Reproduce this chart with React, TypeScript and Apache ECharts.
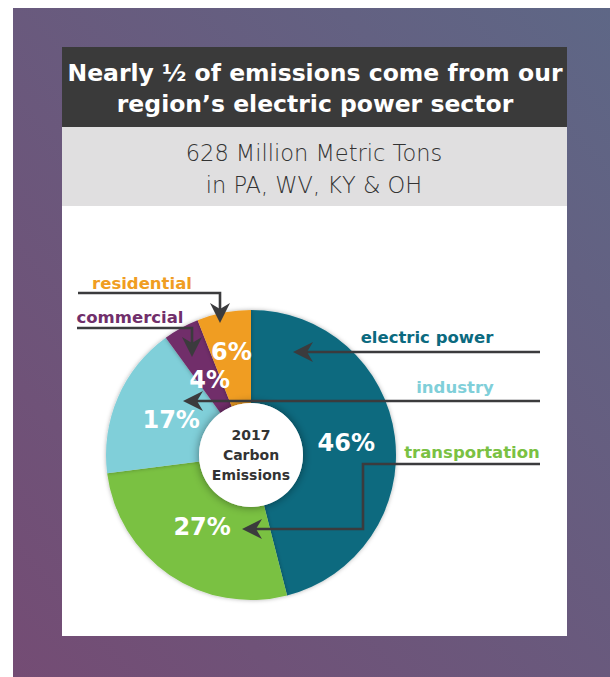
import React, { useEffect, useRef } from "react";
import * as echarts from "echarts";

const sectors = ["electric power", "transportation", "industry", "commercial", "residential"];
const shares = [46, 27, 17, 4, 6];
const sectorColors = ["#0b6a7f", "#7ac143", "#80cfd9", "#712f6b", "#f09d22"];
const titleLines = ["Nearly ½ of emissions come from our", "region’s electric power sector"];
const subtitleLines = ["628 Million Metric Tons", "in PA, WV, KY & OH"];
const centerLabel = "2017\nCarbon\nEmissions";

// layout only: radius at which each percentage label sits
const labelRadii = [96, 87, 87, 86, 105];
const CX = 251, CY = 455;

// annotation layout (label position, arrow path)
const labelPos: Record<string, [number, number]> = {
  "electric power": [427, 337],
  industry: [455, 387],
  transportation: [472, 452],
  residential: [142, 283],
  commercial: [130, 317],
};
const arrowPaths: Record<string, number[][]> = {
  "electric power": [[540, 352], [293, 352]],
  industry: [[540, 401], [183, 401]],
  transportation: [[540, 464], [363, 464], [363, 529], [242, 529]],
  residential: [[78, 293], [220, 293], [220, 323]],
  commercial: [[77, 328], [192, 328], [192, 357]],
};

const ARROW_COLOR = "#3b3b3d";
const BOLD = "'DejaVu Sans', 'Open Sans', sans-serif";
const LIGHT = "'DejaVu Sans', 'Open Sans', sans-serif";

function arrowElements(pts: number[][]) {
  const n = pts.length;
  const [tx, ty] = pts[n - 1];
  const [px, py] = pts[n - 2];
  const dx = tx - px, dy = ty - py;
  const len = Math.hypot(dx, dy);
  const ux = dx / len, uy = dy / len;
  const nx = -uy, ny = ux;
  const L = 20, W = 10, notch = 14;
  const back = [tx - ux * L, ty - uy * L];
  const head = [
    [tx, ty],
    [back[0] + nx * W, back[1] + ny * W],
    [tx - ux * notch, ty - uy * notch],
    [back[0] - nx * W, back[1] - ny * W],
  ];
  const linePts = pts.slice(0, n - 1).concat([[tx - ux * notch, ty - uy * notch]]);
  return [
    {
      type: "polyline",
      z: 100,
      shape: { points: linePts },
      style: { stroke: ARROW_COLOR, lineWidth: 2.6, fill: null },
    },
    {
      type: "polygon",
      z: 101,
      shape: { points: head },
      style: { fill: ARROW_COLOR },
    },
  ];
}

export default function App() {
  const ref = useRef<HTMLDivElement>(null);
  useEffect(() => {
    if (!ref.current) return;
    const chart = echarts.init(ref.current, null, { renderer: "svg" });
    const graphics: any[] = [
      {
        type: "rect",
        z: 0,
        shape: { x: 13, y: 8, width: 597, height: 669 },
        style: {
          fill: new echarts.graphic.LinearGradient(0, 1, 1, 0, [
            { offset: 0, color: "#744c74" },
            { offset: 1, color: "#5e6786" },
          ]),
        },
      },
      { type: "rect", z: 1, shape: { x: 62, y: 47, width: 505, height: 589 }, style: { fill: "#ffffff" } },
      { type: "rect", z: 1, shape: { x: 62, y: 47, width: 505, height: 80 }, style: { fill: "#3a3a3a" } },
      { type: "rect", z: 1, shape: { x: 62, y: 127, width: 505, height: 79 }, style: { fill: "#e0dfe0" } },
    ];
    titleLines.forEach((t, i) => {
      graphics.push({
        type: "text",
        z: 2,
        x: 315,
        y: 73 + i * 31,
        style: {
          text: t,
          fill: "#ffffff",
          fontFamily: BOLD,
          fontWeight: 700,
          fontSize: 23.5,
          align: "center",
          verticalAlign: "middle",
        },
      });
    });
    subtitleLines.forEach((t, i) => {
      graphics.push({
        type: "text",
        z: 2,
        x: 314,
        y: 153 + i * 32,
        style: {
          text: t,
          fill: "#333333",
          fontFamily: LIGHT,
          fontWeight: 200,
          fontSize: 22.5,
          align: "center",
          verticalAlign: "middle",
        },
      });
    });
    sectors.forEach((s, i) => {
      const [x, y] = labelPos[s];
      graphics.push({
        type: "text",
        z: 102,
        x,
        y,
        style: {
          text: s,
          fill: sectorColors[i],
          fontFamily: BOLD,
          fontWeight: 700,
          fontSize: 16.5,
          align: "center",
          verticalAlign: "middle",
        },
      });
      graphics.push(...arrowElements(arrowPaths[s]));
    });

    const pieData = sectors.map((s, i) => ({
      name: s,
      value: shares[i],
      itemStyle: { color: sectorColors[i] },
    }));

    chart.setOption({
      animation: false,
      graphic: { elements: graphics },
      series: [
        {
          type: "pie",
          z: 5,
          center: [CX, CY],
          radius: [52, 145],
          startAngle: 90,
          clockwise: true,
          silent: true,
          avoidLabelOverlap: false,
          itemStyle: { shadowBlur: 4, shadowColor: "rgba(0,0,0,0.3)" },
          label: { show: false },
          labelLine: { show: false },
          data: pieData,
        },
        {
          // transparent copy that only places the percentage labels
          type: "pie",
          z: 7,
          center: [CX, CY],
          radius: [52, 128],
          startAngle: 90,
          clockwise: true,
          silent: true,
          avoidLabelOverlap: false,
          labelLayout: (params: any) => {
            const r = params.labelRect;
            const lx = r.x + r.width / 2 - CX;
            const ly = r.y + r.height / 2 - CY;
            const cur = Math.hypot(lx, ly) || 1;
            const k = labelRadii[params.dataIndex] / cur - 1;
            return { dx: lx * k, dy: ly * k, hideOverlap: false };
          },
          itemStyle: { color: "rgba(0,0,0,0)" },
          label: {
            show: true,
            position: "inside",
            formatter: "{c}%",
            color: "#ffffff",
            fontFamily: BOLD,
            fontWeight: 700,
            fontSize: 24,
          },
          labelLine: { show: false },
          data: sectors.map((s, i) => ({ name: s, value: shares[i] })),
        },
        {
          type: "pie",
          z: 6,
          center: [CX, CY],
          radius: [0, 52],
          silent: true,
          itemStyle: { color: "#ffffff", shadowBlur: 10, shadowColor: "rgba(0,0,0,0.45)" },
          label: {
            show: true,
            position: "center",
            formatter: centerLabel,
            color: "#333333",
            fontFamily: BOLD,
            fontWeight: 700,
            fontSize: 14,
            lineHeight: 20,
          },
          labelLine: { show: false },
          data: [{ name: "2017 Carbon Emissions", value: 1 }],
        },
      ],
    });
    return () => chart.dispose();
  }, []);
  return (
    <div
      ref={ref}
      style={{ position: "absolute", left: 0, top: 0, width: 610, height: 677 }}
    />
  );
}
